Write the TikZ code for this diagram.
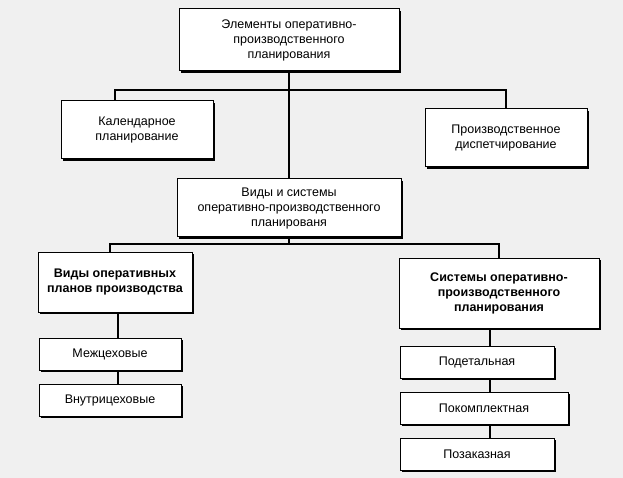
\documentclass[tikz,border=0pt]{standalone}
\usepackage{fontspec}
\setmainfont{Liberation Sans}
\usetikzlibrary{shadows}
\begin{document}
\begin{tikzpicture}[x=1pt,y=-1pt,
  bx/.style={draw,line width=1pt,fill=white,align=center,font=\fontsize{12.5}{15}\selectfont,inner sep=2pt,
    drop shadow={shadow xshift=2.2pt,shadow yshift=-2.2pt,fill=black,opacity=1}},
  ln/.style={line width=1.2pt}]
\fill[black!6] (0,0) rectangle (623,478);
\useasboundingbox (0,0) rectangle (623,478);
\node[bx,minimum width=220,minimum height=62] (top) at (289,40) {Элементы оперативно-\\производственного\\планирования};
\node[bx,minimum width=152,minimum height=58] (kal) at (137,130) {Календарное\\планирование};
\node[bx,minimum width=162,minimum height=58] (dis) at (506,138) {Производственное\\диспетчирование};
\node[bx,minimum width=224,minimum height=58] (vs) at (289,208) {Виды и системы\\оперативно-производственного\\планированя};
\node[bx,minimum width=154,minimum height=60,font=\fontsize{12.5}{15}\selectfont\bfseries] (vid) at (115,282) {Виды оперативных\\планов производства};
\node[bx,minimum width=200,minimum height=70,font=\fontsize{12.5}{15}\selectfont\bfseries] (sys) at (499,293) {Системы оперативно-\\производственного\\планирования};
\node[bx,minimum width=142,minimum height=32] (mez) at (110,354) {Межцеховые};
\node[bx,minimum width=142,minimum height=32] (vnu) at (110,400) {Внутрицеховые};
\node[bx,minimum width=154,minimum height=32] (pod) at (477,362) {Подетальная};
\node[bx,minimum width=168,minimum height=32] (pok) at (484,408) {Покомплектная};
\node[bx,minimum width=154,minimum height=32] (poz) at (477,454) {Позаказная};
\coordinate (j1) at (289,90);
\coordinate (j2) at (289,244);
\coordinate (lc) at (118,0);
\coordinate (rc) at (490,0);
\draw[ln] (top.south) -- (j1) -- (vs.north);
\draw[ln] (kal.north -| 115,0) |- (j1) -| (dis.north);
\draw[ln] (vs.south) -- (j2);
\draw[ln] (vid.north -| 110,0) |- (j2) -| (sys.north);
\draw[ln] (vid.south -| lc) -- (mez.north -| lc);
\draw[ln] (mez.south -| lc) -- (vnu.north -| lc);
\draw[ln] (sys.south -| rc) -- (pod.north -| rc);
\draw[ln] (pod.south -| rc) -- (pok.north -| rc);
\draw[ln] (pok.south -| rc) -- (poz.north -| rc);
\end{tikzpicture}
\end{document}
